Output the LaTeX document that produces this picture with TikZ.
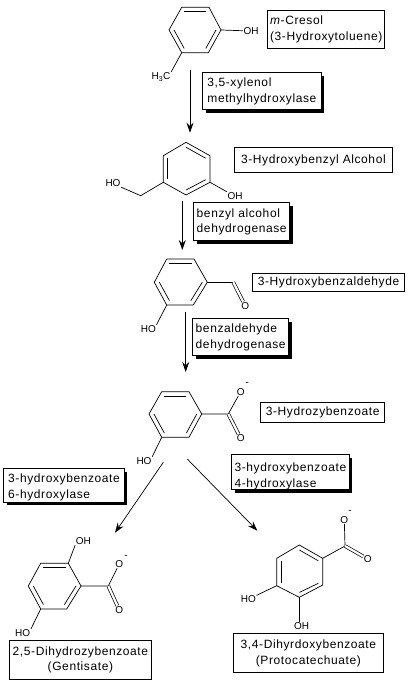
\documentclass[tikz,border=0pt]{standalone}
\usepackage{fontspec}
\setmainfont{Liberation Sans}[LetterSpace=5]
\newfontfamily\atomfont{Liberation Sans}
\usetikzlibrary{arrows.meta,shadows}

\tikzset{
	bond/.style={line width=0.7pt, line join=round},
	dblbond/.style={line width=0.7pt, double, double distance=2.2pt},
	reaction/.style={line width=0.7pt, -{Stealth[length=10pt,width=7pt,inset=3.5pt]}},
	atom/.style={font=\atomfont\fontsize{10}{12}\selectfont, inner sep=0.5pt},
	labelbox/.style={draw, line width=0.8pt, fill=white, inner sep=0pt, anchor=north west, align=left,
		font=\fontsize{12}{15.5}\selectfont},
	shadowbox/.style={labelbox, drop shadow={shadow xshift=3pt, shadow yshift=-3pt, fill=black, opacity=1}}
}

\begin{document}
\begin{tikzpicture}[x=1pt,y=-1pt]
	
	\useasboundingbox (0,0) rectangle (410,684);
	
	% m-Cresol
	\draw[bond]
	(181.7,7.3) -- (209,7.3) -- (221,30) coordinate (ringAoh) -- (208.3,52.7) -- (181.7,52.7) coordinate (ringAme) -- (169,30) -- cycle;
	\draw[bond] (184.2,11.6) -- (206.3,11.6);
	\draw[bond] (216,30) -- (205.8,48.4);
	\draw[bond] (174,30) -- (184.2,48.4);
	\node[atom] (ohA) at (251,31) {OH};
	\node[atom] (meA) at (161,77) {H\textsubscript{3}C};
	\draw[bond] (ringAoh) -- (ohA);
	\draw[bond] (ringAme) -- (meA.north east);
	
	% 3-Hydroxybenzyl alcohol
	\draw[bond]
	(186,142.3) -- (210,155.7) -- (210,182.3) coordinate (ringBoh) -- (186,195) -- (163.3,182.3) coordinate (ringBch) -- (163.3,155.7) -- cycle;
	\draw[bond] (186.1,147.3) -- (205.6,158.2);
	\draw[bond] (205.6,179.7) -- (186.1,190);
	\draw[bond] (167.7,158.2) -- (167.7,179.2);
	\node[atom] (ohB) at (235,196) {OH};
	\node[atom] (hoB) at (113,183) {HO};
	\coordinate (chB) at (140.7,195.7);
	\draw[bond] (ringBoh) -- (ohB.north west);
	\draw[bond] (ringBch) -- (chB) -- (hoB.south east);
	
	% 3-Hydroxybenzaldehyde
	\draw[bond]
	(166.7,259) -- (194,259) -- (207.3,282.3) coordinate (ringCch) -- (193.3,305) -- (166.7,305) coordinate (ringCoh) -- (154.3,282.3) -- cycle;
	\draw[bond] (169.4,263.4) -- (191.5,263.4);
	\draw[bond] (202.3,282.2) -- (190.9,300.6);
	\draw[bond] (159.3,282.2) -- (169.4,300.6);
	\node[atom] (oC) at (245.3,306) {O};
	\node[atom] (hoC) at (148.3,329) {HO};
	\coordinate (chC) at (233.3,282.3);
	\draw[bond] (ringCch) -- (chC);
	\draw[dblbond] (chC) -- (oC);
	\draw[bond] (ringCoh) -- (hoC.north east);
	
	% 3-Hydrozybenzoate
	\draw[bond]
	(161.7,391.7) -- (189,391.7) -- (201.7,414) coordinate (ringDco) -- (189,437.3) -- (161.7,437.3) coordinate (ringDoh) -- (149,414) -- cycle;
	\draw[bond] (164.3,396) -- (186.4,396);
	\draw[bond] (196.7,414.1) -- (186.4,433);
	\draw[bond] (154,414.1) -- (164.3,433);
	\node[atom] (oDa) at (240.7,391.7) {O};
	\node[atom] (minusD) at (247.3,384) {-};
	\node[atom] (oDb) at (240.7,438.3) {O};
	\node[atom] (hoD) at (144,461) {HO};
	\coordinate (coD) at (228.3,414);
	\draw[bond] (ringDco) -- (coD) -- (oDa);
	\draw[dblbond] (coD) -- (oDb);
	\draw[bond] (ringDoh) -- (hoD.north east);
	
	% Gentisate
	\draw[bond]
	(40.7,563.3) -- (68.3,563.3) coordinate (ringEohA) -- (81,586) coordinate (ringEco) -- (66.7,609) -- (40.7,609) coordinate (ringEohB) -- (28.3,586) -- cycle;
	\draw[bond] (43.4,567.6) -- (65.7,567.6);
	\draw[bond] (76,586) -- (64.4,604.6);
	\draw[bond] (33.3,586) -- (43.4,604.6);
	\node[atom] (ohE) at (83.3,541) {OH};
	\node[atom] (oEa) at (119.3,564) {O};
	\node[atom] (minusE) at (126,556.5) {-};
	\node[atom] (oEb) at (119.3,610) {O};
	\node[atom] (hoE) at (22.7,633.3) {HO};
	\coordinate (coE) at (108.3,586);
	\draw[bond] (ringEohA) -- (ohE.south west);
	\draw[bond] (ringEco) -- (coE) -- (oEa);
	\draw[dblbond] (coE) -- (oEb);
	\draw[bond] (ringEohB) -- (hoE.north east);
	
	% Protocatechuate
	\draw[bond]
	(299.3,545) -- (322.7,558.3) coordinate (ringFco) -- (322.7,585) -- (299.3,597.3) coordinate (ringFohA) -- (276.7,585.7) coordinate (ringFohB) -- (276.7,558.3) -- cycle;
	\draw[bond] (299.4,550) -- (318.3,560.8);
	\draw[bond] (318.3,583.3) -- (299.4,592.4);
	\draw[bond] (281,560.8) -- (281,583.4);
	\node[atom] (oFa) at (344.3,520) {O};
	\node[atom] (minusF) at (350,512) {-};
	\node[atom] (oFb) at (367.7,559) {O};
	\node[atom] (hoF) at (248.3,599.3) {HO};
	\node[atom] (ohF) at (301.7,626) {OH};
	\coordinate (coF) at (345,546);
	\draw[bond] (ringFco) -- (coF) -- (oFa);
	\draw[dblbond] (coF) -- (oFb);
	\draw[bond] (ringFohB) -- (hoF);
	\draw[bond] (ringFohA) -- (ringFohA |- ohF.north);
	
	% Reaktionspfeile
	\coordinate (startA) at (190,70);
	\coordinate (endA) at (190,132.7);
	\coordinate (startB) at (182.3,200.7);
	\coordinate (endB) at (182.3,250);
	\coordinate (startC) at (185.7,311.7);
	\coordinate (endC) at (185.7,372);
	\coordinate (startD) at (163.3,462.3);
	\coordinate (endD) at (115,532.7);
	\coordinate (startE) at (187.3,459);
	\coordinate (endE) at (257.3,530.7);
	\draw[reaction] (startA) -- (endA);
	\draw[reaction] (startB) -- (endB);
	\draw[reaction] (startC) -- (endC);
	\draw[reaction] (startD) -- (endD);
	\draw[reaction] (startE) -- (endE);
	
	% Beschriftung der Stoffe
	\node[labelbox, minimum width=117pt, minimum height=38.3pt] (nameCresol) at (267.3,10) {\textit{m}-Cresol\\(3-Hydroxytoluene)};
	\node[labelbox, minimum width=157.4pt, minimum height=25pt] (nameAlcohol) at (234.3,147.3) {3-Hydroxybenzyl Alcohol};
	\node[labelbox, minimum width=151.7pt, minimum height=18pt] (nameAldehyde) at (252.3,272.7) {3-Hydroxybenzaldehyde};
	\node[labelbox, minimum width=124pt, minimum height=20.6pt] (nameBenzoate) at (260.3,401.7) {3-Hydrozybenzoate};
	\node[labelbox, align=center, minimum width=141.4pt, minimum height=38.7pt] (nameGentisate) at (9.3,640.3) {2,5-Dihydrozybenzoate\\(Gentisate)};
	\node[labelbox, align=center, minimum width=149.4pt, minimum height=39pt] (nameProto) at (233.3,633.3) {3,4-Dihyrdoxybenzoate\\(Protocatechuate)};
	
	% Beschriftung der Enzyme
	\node[shadowbox, minimum width=118.4pt, minimum height=37pt] (enzXylenol) at (202.3,72.3) {3,5-xylenol\\methylhydroxylase};
	\node[shadowbox, minimum width=96pt, minimum height=38pt] (enzAlcohol) at (193.3,202.3) {benzyl alcohol\\dehydrogenase};
	\node[shadowbox, minimum width=96pt, minimum height=37pt] (enzAldehyde) at (192.3,318.3) {benzaldehyde\\dehydrogenase};
	\node[shadowbox, minimum width=117.4pt, minimum height=32pt] (enzFour) at (231.3,454.3) {\rule{0pt}{17pt}3-hydroxybenzoate\\4-hydroxylase};
	\node[shadowbox, minimum width=120.7pt, minimum height=33.4pt] (enzSix) at (3.3,468.3) {\rule{0pt}{13pt}3-hydroxybenzoate\\6-hydroxylase};
	
\end{tikzpicture}
\end{document}
